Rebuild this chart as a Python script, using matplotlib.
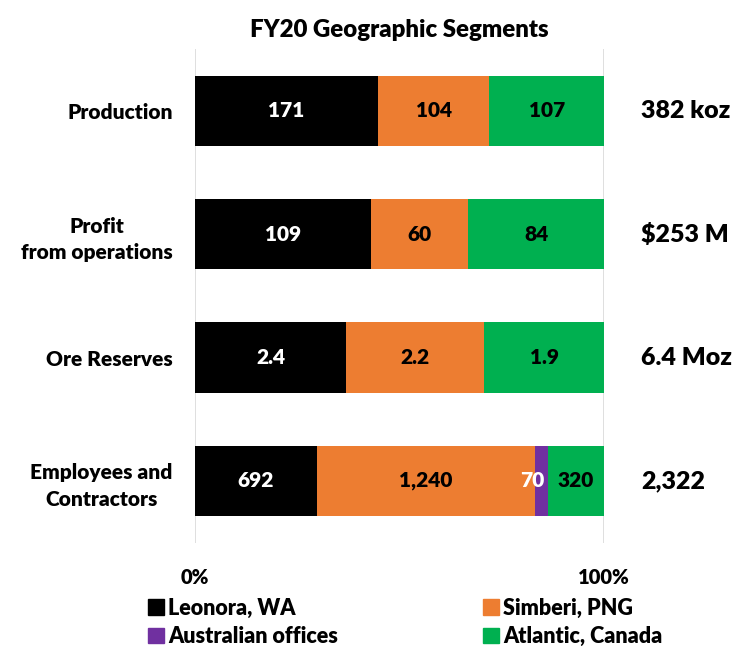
import matplotlib
matplotlib.use("Agg")
import matplotlib.pyplot as plt
import matplotlib.transforms as mtransforms
from matplotlib.patches import Patch
import numpy as np

plt.rcParams['font.family'] = ['Lato', 'DejaVu Sans']
W = 'heavy'

categories = ["Production", "Profit\nfrom operations", "Ore Reserves", "Employees and\nContractors"]
series_names = ["Leonora, WA", "Simberi, PNG", "Australian offices", "Atlantic, Canada"]
leonora = [171, 109, 2.4, 692]
simberi = [104, 60, 2.2, 1240]
aus_offices = [0, 0, 0, 70]
atlantic = [107, 84, 1.9, 320]
label_texts = [
    ["171", "109", "2.4", "692"],
    ["104", "60", "2.2", "1,240"],
    ["", "", "", "70"],
    ["107", "84", "1.9", "320"],
]
totals = ["382 koz", "$253 M", "6.4 Moz", "2,322"]
tick_labels = ["0%", "100%"]

colors = ["#000000", "#ED7D31", "#7030A0", "#00B050"]
text_colors = ["white", "black", "white", "black"]

data = np.array([leonora, simberi, aus_offices, atlantic], dtype=float)
share = data / data.sum(axis=0)

fig = plt.figure(figsize=(7.35, 6.46), dpi=100)
ax = fig.add_axes([0.2653, 0.160, 0.5565, 0.7637])

y = np.arange(len(categories))
left = np.zeros(len(categories))
for i in range(len(series_names)):
    ax.barh(y, share[i], left=left, height=0.57, color=colors[i], label=series_names[i])
    for j in range(len(categories)):
        txt = label_texts[i][j]
        if txt:
            cx = left[j] + share[i][j] / 2
            dx = -7 if i == 2 else 0
            ax.annotate(txt, (cx, y[j]), xytext=(dx, 0), textcoords='offset points',
                        ha='center', va='center', color=text_colors[i],
                        fontsize=15, fontweight=W)
    left += share[i]

trans = mtransforms.blended_transform_factory(ax.transAxes, ax.transData)
for j, t in enumerate(totals):
    ax.text(1.09, y[j], t, transform=trans, ha='left', va='center',
            fontsize=18, fontweight=W, color='black')

ax.set_ylim(3.5, -0.5)
ax.set_xlim(0, 1)
ax.set_yticks(y)
ax.set_yticklabels(categories, fontsize=15, fontweight=W, multialignment='center',
                   linespacing=1.45)
ax.tick_params(axis='y', length=0, pad=16)
ax.set_xticks([0, 1])
ax.set_xticklabels(tick_labels, fontsize=14.5, fontweight=W)
ax.tick_params(axis='x', length=0, pad=18)
ax.grid(axis='x', color='#D9D9D9', linewidth=1.2)
ax.set_axisbelow(True)
for s in ax.spines.values():
    s.set_visible(False)

fig.text(0.5435, 0.953, "FY20 Geographic Segments", ha='center', va='center',
         fontsize=17.3, fontweight=W)

handles = [Patch(color=colors[0]), Patch(color=colors[2]), Patch(color=colors[1]), Patch(color=colors[3])]
labels = [series_names[0], series_names[2], series_names[1], series_names[3]]
fig.legend(handles, labels, ncol=2, loc='lower left', bbox_to_anchor=(0.175, -0.032),
           frameon=False, handlelength=0.72, handleheight=0.72,
           handletextpad=0.2, columnspacing=6.76, labelspacing=0.36,
           prop={'weight': W, 'size': 15.5})

fig.savefig("out.png", dpi=100)
